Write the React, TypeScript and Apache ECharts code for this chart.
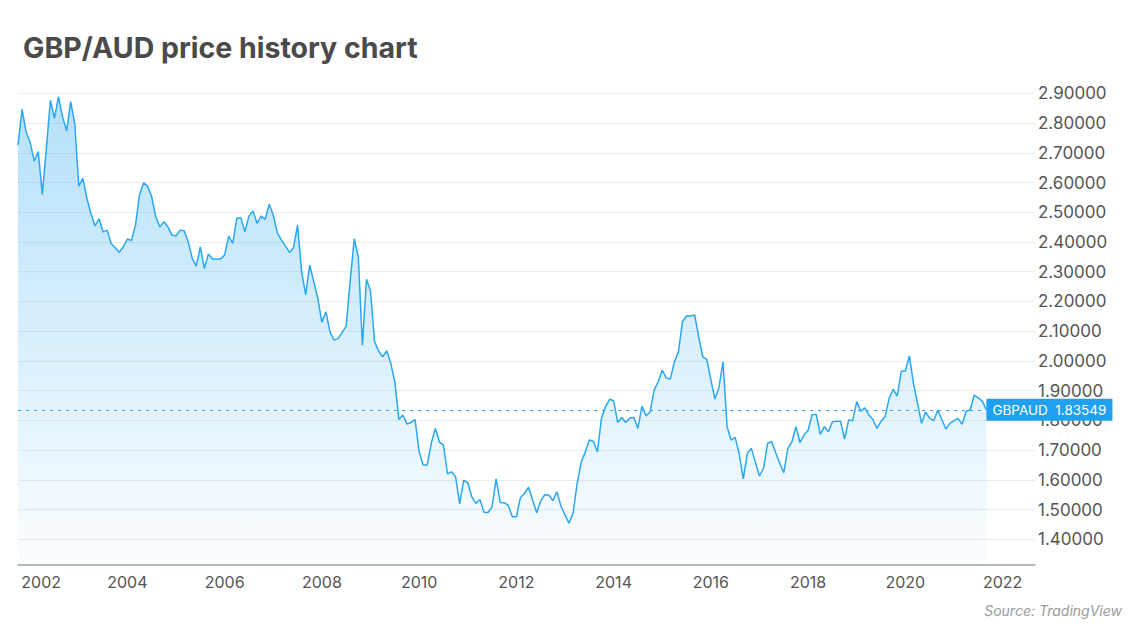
import React, { useEffect, useRef } from "react";
import * as echarts from "echarts";

// GBP/AUD monthly closes, Oct 2001 onward
const prices2001to2006: number[] = [
  2.726, 2.846, 2.771, 2.735, 2.672, 2.704, 2.56, 2.715, 2.877, 2.816,
  2.889, 2.821, 2.774, 2.872, 2.799, 2.588, 2.614, 2.547, 2.496, 2.454,
  2.478, 2.434, 2.44, 2.394, 2.381, 2.365, 2.384, 2.41, 2.405, 2.457,
  2.56, 2.599, 2.588, 2.552, 2.485, 2.451, 2.468, 2.451, 2.423, 2.421,
  2.44, 2.438, 2.401, 2.345, 2.319, 2.384, 2.311, 2.36, 2.343, 2.343,
  2.343, 2.356, 2.42, 2.395, 2.48, 2.482, 2.434, 2.487, 2.504, 2.463,
];
const prices2006to2010: number[] = [
  2.487, 2.476, 2.527, 2.491, 2.431, 2.407, 2.387, 2.365, 2.381, 2.457,
  2.3, 2.222, 2.322, 2.266, 2.21, 2.13, 2.165, 2.098, 2.07, 2.075,
  2.096, 2.117, 2.272, 2.411, 2.348, 2.053, 2.275, 2.235, 2.065, 2.034,
  2.014, 2.034, 1.992, 1.93, 1.803, 1.818, 1.788, 1.793, 1.803, 1.694,
  1.65, 1.65, 1.723, 1.773, 1.728, 1.717, 1.62, 1.627, 1.61,
];
const prices2010to2015: number[] = [
  1.519, 1.599, 1.59, 1.543, 1.521, 1.534, 1.491, 1.49, 1.509, 1.603,
  1.524, 1.523, 1.514, 1.476, 1.476, 1.54, 1.555, 1.575, 1.532, 1.489,
  1.529, 1.55, 1.549, 1.53, 1.56, 1.512, 1.482, 1.454, 1.489, 1.588,
  1.658, 1.694, 1.734, 1.73, 1.694, 1.807, 1.846, 1.871, 1.866, 1.793,
  1.81, 1.793, 1.808, 1.81, 1.773, 1.848, 1.815, 1.829, 1.902, 1.93,
];
const prices2015to2017: number[] = [
  1.969, 1.943, 1.939, 1.997, 2.031, 2.132, 2.151, 2.151, 2.155, 2.081,
  2.014, 2.005, 1.936, 1.872, 1.911, 1.997, 1.779, 1.734, 1.743,
];
const prices2017to2021: number[] = [
  1.687, 1.603, 1.689, 1.706, 1.658, 1.613, 1.639, 1.723, 1.728, 1.691,
  1.656, 1.624, 1.706, 1.728, 1.779, 1.725, 1.751, 1.767, 1.82, 1.82,
  1.753, 1.779, 1.762, 1.795, 1.797, 1.797, 1.737, 1.801, 1.799, 1.863,
  1.831, 1.842, 1.818, 1.803, 1.773, 1.797, 1.812, 1.874, 1.905, 1.882,
  1.966, 1.966, 2.017, 1.925, 1.857, 1.79, 1.829, 1.807, 1.799, 1.835,
  1.803, 1.771, 1.79, 1.799, 1.807, 1.787, 1.831, 1.835, 1.885, 1.876,
  1.865, 1.83549,
];

const prices: number[] = [
  ...prices2001to2006,
  ...prices2006to2010,
  ...prices2010to2015,
  ...prices2015to2017,
  ...prices2017to2021,
];

const LAST_PRICE = 1.83549;
const SYMBOL = "GBPAUD";
const TITLE = "GBP/AUD price history chart";
const SOURCE = "Source: TradingView";
const START_YEAR = 2001;
const START_MONTH = 10; // October
const EXTRA_MONTHS = 12; // empty axis room after the last close
const FIRST_LABEL_YEAR = "2002";

// month categories
const months: string[] = [];
for (let i = 0; i < prices.length + EXTRA_MONTHS; i++) {
  const m0 = START_MONTH - 1 + i;
  const y = START_YEAR + Math.floor(m0 / 12);
  const m = (m0 % 12) + 1;
  months.push(`${y}-${m < 10 ? "0" + m : m}`);
}

const Y_MIN = 1.3136;
const Y_MAX = 2.9517;

export default function App() {
  const ref = useRef<HTMLDivElement>(null);

  useEffect(() => {
    if (!ref.current) return;
    const chart = echarts.init(ref.current, undefined, { renderer: "svg" });
    const font = "Inter, 'Noto Sans', sans-serif";
    const lineColor = "#29a8f1";

    chart.setOption({
      animation: false,
      backgroundColor: "#ffffff",
      textStyle: { fontFamily: font },
      title: {
        text: TITLE,
        left: 18,
        top: 28,
        textStyle: {
          fontSize: 28.5,
          fontWeight: 700,
          color: "#4a4a4a",
          fontFamily: font,
        },
      },
      grid: { left: 18, right: 105, top: 78, bottom: 65, containLabel: false },
      xAxis: {
        type: "category",
        data: months,
        boundaryGap: false,
        axisLine: { show: true, lineStyle: { color: "#a3a3a3", width: 1.5 } },
        axisTick: { show: false },
        splitLine: { show: false },
        axisLabel: {
          interval: (_i: number, v: string) => {
            const [y, m] = v.split("-");
            return m === "01" && Number(y) % 2 === 0;
          },
          formatter: (v: string) => {
            const y = v.split("-")[0];
            return y === FIRST_LABEL_YEAR ? `{first|${y}}` : y;
          },
          rich: {
            first: {
              padding: [0, 0, 0, 22],
              color: "#555555",
              fontSize: 16,
              fontFamily: font,
            },
          },
          color: "#555555",
          fontSize: 16,
          margin: 9,
          fontFamily: font,
        },
      },
      yAxis: {
        type: "value",
        position: "right",
        min: Y_MIN,
        max: Y_MAX,
        minInterval: 0.1,
        maxInterval: 0.1,
        splitNumber: 15,
        axisLine: { show: false },
        axisTick: { show: false },
        axisLabel: {
          showMinLabel: false,
          showMaxLabel: false,
          formatter: (v: number) => v.toFixed(5),
          color: "#555555",
          fontSize: 17,
          margin: 3,
          fontFamily: font,
        },
        splitLine: {
          show: true,
          showMinLine: false,
          showMaxLine: false,
          lineStyle: { color: "#ececec", width: 1 },
        },
      },
      series: [
        {
          type: "line",
          data: prices,
          showSymbol: false,
          symbol: "none",
          lineStyle: { color: lineColor, width: 1.5 },
          itemStyle: { color: lineColor },
          areaStyle: {
            color: new echarts.graphic.LinearGradient(0, 0, 0, 1, [
              { offset: 0, color: "rgba(41,168,241,0.5)" },
              { offset: 1, color: "rgba(41,168,241,0.03)" },
            ]),
          },
          endLabel: {
            show: true,
            formatter: () => `${SYMBOL}  ${LAST_PRICE.toFixed(5)}`,
            backgroundColor: "#20a0f0",
            color: "#ffffff",
            fontSize: 13.5,
            fontFamily: font,
            padding: [4, 6, 4, 6],
            distance: 0,
          },
          markLine: {
            silent: true,
            symbol: ["none", "none"],
            label: { show: false },
            lineStyle: { color: lineColor, type: [3, 5], width: 1.2 },
            data: [
              [
                { coord: [months[0], LAST_PRICE] },
                { coord: [months[prices.length - 1], LAST_PRICE] },
              ],
            ],
          },
        },
      ],
      graphic: [
        {
          type: "text",
          right: 18,
          top: 603,
          style: {
            text: SOURCE,
            fontSize: 14,
            fontStyle: "italic",
            fill: "#9a9a9a",
            fontFamily: font,
          },
        },
      ],
    });

    return () => chart.dispose();
  }, []);

  return (
    <div
      ref={ref}
      style={{ position: "fixed", left: 0, top: 0, width: 1140, height: 630 }}
    />
  );
}
